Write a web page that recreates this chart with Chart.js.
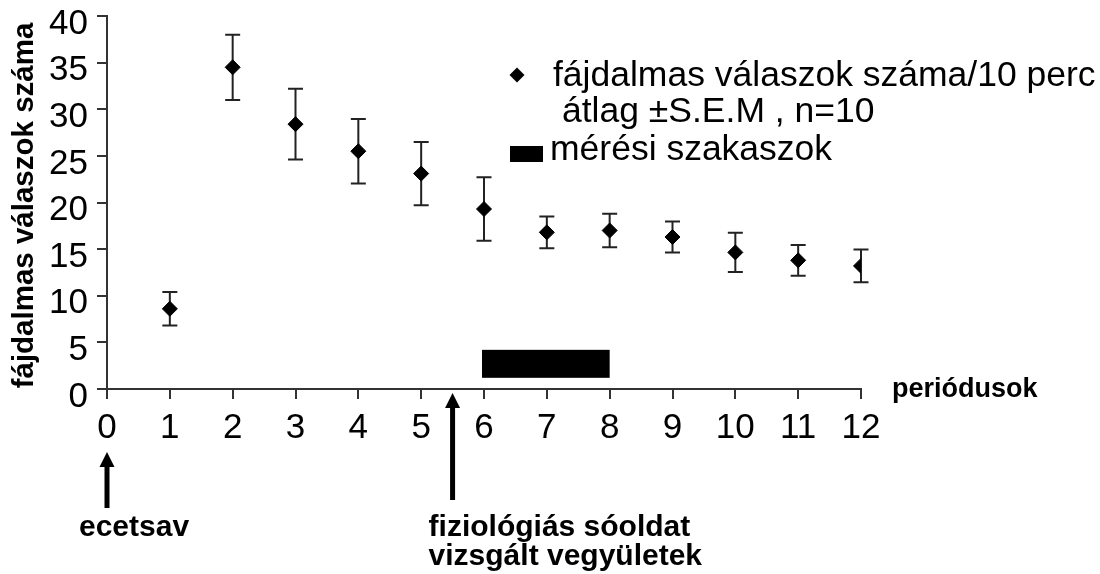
<!DOCTYPE html>
<html>
<head>
<meta charset="utf-8">
<script src="https://cdn.jsdelivr.net/npm/chart.js@4.4.1/dist/chart.umd.min.js"></script>
<style>
html, body { margin: 0; padding: 0; background: #fff; }
</style>
</head>
<body>
<canvas id="c" width="1100" height="574"></canvas>
<script>
const FONT = '"Liberation Sans", Arial, sans-serif'

// periods (10 min each) and mean ± S.E.M of pain responses, n=10
const periods = [1, 2, 3, 4, 5, 6, 7, 8, 9, 10, 11, 12]
const means = [8.6, 34.5, 28.4, 25.5, 23.1, 19.3, 16.8, 17.0, 16.3, 14.65, 13.8, 13.2]
const sems = [1.8, 3.5, 3.8, 3.45, 3.4, 3.4, 1.7, 1.8, 1.65, 2.1, 1.65, 1.75]

// measurement window (mérési szakaszok)
const measureFrom = 6
const measureTo = 8
const measureLow = 1.2
const measureHigh = 4.2

// injection times
const arrowAt = [0, 5.5]
const arrowLabels = [['ecetsav'], ['fiziológiás sóoldat', 'vizsgált vegyületek']]

const yTitle = 'fájdalmas válaszok száma'
const xTitle = 'periódusok'
const legendPoint = ['fájdalmas válaszok száma/10 perc', 'átlag ±S.E.M , n=10']
const legendBar = 'mérési szakaszok'

const extras = {
    id: 'extras',
    beforeDatasetsDraw(chart) {
        const {ctx, scales: {x, y}} = chart
        ctx.save()
        // measurement bar
        const x0 = x.getPixelForValue(measureFrom), x1 = x.getPixelForValue(measureTo)
        const y0 = y.getPixelForValue(measureHigh), y1 = y.getPixelForValue(measureLow)
        ctx.fillStyle = '#000'
        ctx.fillRect(x0 - 2, y0, x1 - x0 + 2, y1 - y0)
        // error bars
        ctx.strokeStyle = '#222'
        ctx.lineWidth = 2
        periods.forEach((p, i) => {
            const px = x.getPixelForValue(p)
            const top = y.getPixelForValue(means[i] + sems[i])
            const bot = y.getPixelForValue(means[i] - sems[i])
            ctx.beginPath()
            ctx.moveTo(px, top); ctx.lineTo(px, bot)
            ctx.moveTo(px - 7.5, top); ctx.lineTo(px + 7.5, top)
            ctx.moveTo(px - 7.5, bot); ctx.lineTo(px + 7.5, bot)
            ctx.stroke()
        })
        ctx.restore()
    },
    afterDraw(chart) {
        const {ctx, chartArea, scales: {x}} = chart
        const b = chartArea.bottom
        ctx.save()
        ctx.fillStyle = '#000'

        // y title
        ctx.save()
        ctx.translate(25, (chartArea.top + chartArea.bottom) / 2 + 3)
        ctx.rotate(-Math.PI / 2)
        ctx.font = `bold 29.5px ${FONT}`
        ctx.textAlign = 'center'
        ctx.textBaseline = 'middle'
        ctx.fillText(yTitle, 0, 0)
        ctx.restore()

        // x title
        ctx.font = `bold 27px ${FONT}`
        ctx.textAlign = 'left'
        ctx.textBaseline = 'alphabetic'
        ctx.fillText(xTitle, chartArea.right + 31, b + 8)

        // arrows + labels
        const tips = [63, 4], tails = [119, 111], labelDx = [-28, -24]
        arrowAt.forEach((v, i) => {
            const px = x.getPixelForValue(v)
            const tip = b + tips[i], tail = b + tails[i]
            ctx.beginPath()
            ctx.moveTo(px, tip)
            ctx.lineTo(px + 7.5, tip + 15)
            ctx.lineTo(px - 7.5, tip + 15)
            ctx.closePath()
            ctx.fill()
            ctx.fillRect(px - 2.5, tip + 14, 5, tail - tip - 14)
            ctx.font = `bold 30px ${FONT}`
            arrowLabels[i].forEach((t, j) => ctx.fillText(t, px + labelDx[i], 536 + j * 29))
        })

        // legend
        ctx.beginPath()
        ctx.moveTo(517, 67.5); ctx.lineTo(524.5, 75); ctx.lineTo(517, 82.5); ctx.lineTo(509.5, 75)
        ctx.closePath()
        ctx.fill()
        ctx.font = `35.5px ${FONT}`
        ctx.fillText(legendPoint[0], 553, 86)
        ctx.fillText(legendPoint[1], 562, 122)
        ctx.fillRect(510, 146, 33, 16)
        ctx.fillText(legendBar, 550, 160)
        ctx.restore()
    }
}

new Chart(document.getElementById('c'), {
    type: 'scatter',
    data: {
        datasets: [{
            data: periods.map((p, i) => ({x: p, y: means[i]})),
            pointStyle: 'rectRot',
            pointRadius: 7.5,
            backgroundColor: '#000',
            borderColor: '#000',
            borderWidth: 1
        }]
    },
    options: {
        responsive: false,
        animation: false,
        layout: {padding: {left: 0, top: 16, right: 239, bottom: 0}},
        plugins: {legend: {display: false}, tooltip: {enabled: false}},
        scales: {
            x: {
                type: 'linear', min: 0, max: 12,
                ticks: {stepSize: 1, color: '#000', font: {family: FONT, size: 35}, padding: 8, maxRotation: 0},
                grid: {drawOnChartArea: false, tickLength: 10, color: '#333', lineWidth: 2},
                border: {color: '#333', width: 2},
                afterFit: s => { s.height = 185; s.paddingLeft = 0; s.paddingRight = 0 }
            },
            y: {
                min: 0, max: 40,
                ticks: {stepSize: 5, color: '#000', font: {family: FONT, size: 35}, padding: 9, labelOffset: 8},
                grid: {drawOnChartArea: false, tickLength: 10, color: '#333', lineWidth: 2},
                border: {color: '#333', width: 2},
                afterFit: s => { s.width = 107; s.paddingTop = 0; s.paddingBottom = 0 }
            }
        }
    },
    plugins: [extras]
})
</script>
</body>
</html>
